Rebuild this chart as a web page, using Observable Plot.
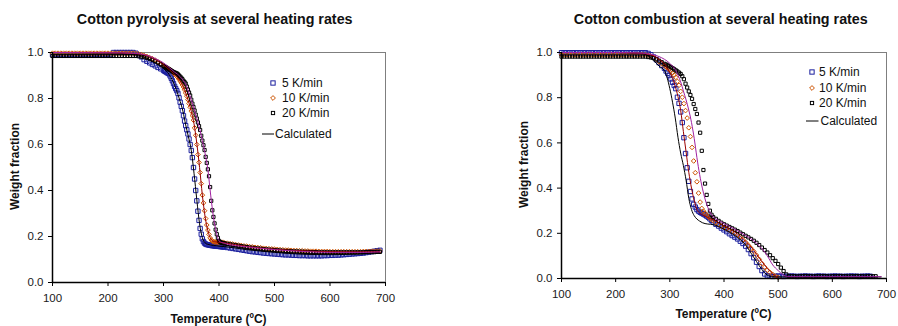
<!DOCTYPE html>
<html><head><meta charset="utf-8">
<script src="https://cdn.jsdelivr.net/npm/d3@7"></script>
<script src="https://cdn.jsdelivr.net/npm/@observablehq/plot@0.6"></script>
<style>
body{margin:0;background:#fff;font-family:Arial,"Liberation Sans",sans-serif;}
#wrap{position:relative;width:898px;height:326px;overflow:hidden;background:#fff}
.chart{position:absolute;top:0;width:449px;height:326px}
#overlay{position:absolute;left:0;top:0;pointer-events:none}
</style></head>
<body><div id="wrap">
<div class="chart" id="left" style="left:0"></div>
<div class="chart" id="right" style="left:449px"></div>
<svg id="overlay" width="898" height="326" font-family="Arial, 'Liberation Sans', sans-serif"></svg>
</div>
<script>
// ---------- shared ----------
const xTicks = [100, 200, 300, 400, 500, 600, 700];
const yTicks = [0, 0.2, 0.4, 0.6, 0.8, 1.0];
const seriesNames = ["5 K/min", "10 K/min", "20 K/min"];
const calcName = "Calculated";
const titleLeft = "Cotton pyrolysis at several heating rates";
const titleRight = "Cotton combustion at several heating rates";
const xLabel = "Temperature (ºC)";
const yLabel = "Weight fraction";

// ---------- left chart: pyrolysis, measured ----------
const tempLeft = [100,105,110,115,120,125,130,135,140,145,150,155,160,165,170,175,180,185,190,195,200,205,210,215,220,225,230,235,240,245,250,255,260,265,270,275,280,285,290,295,
300,302,304,306,308,310,312,314,316,318,320,322,324,326,328,330,332,334,336,338,340,342,344,346,348,350,352,354,356,358,360,362,364,366,368,370,372,374,376,378,380,382,384,386,388,390,392,394,396,398,400,402,404,406,408,410,
415,420,425,430,435,440,445,450,455,460,465,470,475,480,485,490,495,500,505,510,515,520,525,530,535,540,545,550,555,560,565,570,575,580,585,590,595,600,605,610,615,620,625,630,635,640,645,650,655,660,665,670,675,680,685,690];
const pyro5 = [0.99,0.99,0.99,0.99,0.99,0.99,0.99,0.99,0.99,0.99,0.99,0.99,0.99,0.99,0.99,0.99,0.99,0.99,0.99,0.99,0.99,0.99,1.0,1.0,1.0,1.0,1.0,1.0,1.0,1.0,0.997,0.99,0.981,0.969,0.962,0.955,0.948,0.942,0.935,0.929,
0.922,0.919,0.916,0.913,0.910,0.907,0.898,0.888,0.877,0.865,0.853,0.843,0.834,0.822,0.803,0.784,0.766,0.747,0.725,0.702,0.682,0.664,0.646,0.624,0.600,0.574,0.543,0.500,0.450,0.400,0.355,0.310,0.270,0.235,0.210,0.190,0.178,0.171,0.167,0.165,0.164,0.163,0.162,0.161,0.160,0.160,0.159,0.158,0.158,0.157,0.157,0.156,0.156,0.155,0.155,0.154,
0.152,0.150,0.148,0.146,0.144,0.142,0.140,0.138,0.136,0.134,0.133,0.131,0.130,0.128,0.127,0.126,0.125,0.124,0.123,0.122,0.121,0.120,0.120,0.119,0.118,0.118,0.117,0.117,0.117,0.116,0.116,0.116,0.116,0.116,0.116,0.117,0.117,0.118,0.118,0.119,0.119,0.120,0.121,0.122,0.123,0.124,0.125,0.126,0.127,0.128,0.130,0.132,0.134,0.136,0.138,0.140];
const pyro10 = [0.997,0.997,0.997,0.997,0.997,0.997,0.997,0.997,0.997,0.997,0.997,0.997,0.997,0.997,0.997,0.997,0.997,0.997,0.997,0.997,0.997,0.997,0.997,0.997,0.997,0.997,0.997,0.997,0.997,0.997,0.996,0.994,0.991,0.987,0.983,0.978,0.973,0.967,0.959,0.951,
0.943,0.940,0.937,0.934,0.931,0.928,0.925,0.921,0.917,0.912,0.907,0.902,0.897,0.891,0.884,0.876,0.868,0.859,0.850,0.838,0.824,0.810,0.795,0.778,0.762,0.745,0.726,0.706,0.672,0.640,0.600,0.556,0.522,0.478,0.430,0.380,0.346,0.312,0.278,0.250,0.228,0.209,0.194,0.185,0.180,0.177,0.176,0.176,0.175,0.175,0.175,0.174,0.174,0.173,0.173,0.172,
0.171,0.169,0.167,0.165,0.163,0.161,0.159,0.158,0.156,0.155,0.153,0.152,0.151,0.149,0.148,0.147,0.146,0.145,0.144,0.143,0.142,0.141,0.141,0.140,0.139,0.139,0.138,0.138,0.137,0.137,0.136,0.136,0.136,0.135,0.135,0.135,0.135,0.134,0.134,0.134,0.134,0.134,0.134,0.134,0.134,0.134,0.134,0.134,0.134,0.135,0.135,0.135,0.136,0.136,0.137,0.137];
const pyro20 = [0.985,0.985,0.985,0.985,0.985,0.985,0.985,0.985,0.985,0.985,0.985,0.985,0.985,0.985,0.985,0.985,0.985,0.985,0.985,0.985,0.985,0.985,0.985,0.985,0.985,0.985,0.985,0.985,0.985,0.985,0.985,0.984,0.982,0.980,0.977,0.973,0.968,0.962,0.956,0.949,
0.942,0.939,0.936,0.933,0.930,0.927,0.924,0.921,0.918,0.915,0.913,0.911,0.909,0.905,0.900,0.895,0.890,0.884,0.877,0.871,0.865,0.852,0.839,0.826,0.813,0.795,0.778,0.763,0.748,0.730,0.713,0.696,0.680,0.663,0.638,0.617,0.597,0.576,0.546,0.520,0.492,0.462,0.415,0.355,0.314,0.285,0.257,0.230,0.210,0.194,0.181,0.176,0.173,0.172,0.171,0.170,
0.168,0.166,0.164,0.162,0.160,0.158,0.156,0.154,0.152,0.151,0.149,0.148,0.147,0.145,0.144,0.143,0.142,0.141,0.140,0.139,0.138,0.137,0.137,0.136,0.135,0.135,0.134,0.134,0.133,0.133,0.132,0.132,0.132,0.131,0.131,0.131,0.131,0.131,0.131,0.131,0.131,0.131,0.131,0.131,0.131,0.131,0.131,0.131,0.131,0.131,0.132,0.132,0.132,0.132,0.133,0.133];

// ---------- left chart: calculated ----------
const tempCalcLeft = [100,200,250,270,290,300,310,320,330,335,340,345,350,355,360,365,370,375,380,385,390,395,400,410,450,500,550,600,650,690];
const calcPyro5 = [1.0,0.998,0.99,0.975,0.948,0.93,0.905,0.858,0.787,0.745,0.685,0.633,0.575,0.475,0.36,0.255,0.195,0.172,0.166,0.163,0.161,0.16,0.158,0.156,0.143,0.131,0.123,0.121,0.124,0.132];
const calcPyro10 = [1.0,0.999,0.995,0.986,0.962,0.946,0.926,0.905,0.876,0.855,0.824,0.788,0.745,0.69,0.605,0.50,0.38,0.285,0.225,0.19,0.178,0.176,0.175,0.172,0.157,0.145,0.138,0.134,0.133,0.134];
const calcPyro20 = [1.0,0.999,0.996,0.988,0.968,0.955,0.935,0.915,0.895,0.88,0.862,0.83,0.795,0.755,0.712,0.67,0.617,0.56,0.49,0.38,0.285,0.22,0.181,0.17,0.155,0.143,0.135,0.131,0.131,0.133];

// ---------- right chart: combustion, measured ----------
const tempRight = [100,105,110,115,120,125,130,135,140,145,150,155,160,165,170,175,180,185,190,195,200,205,210,215,220,225,230,235,240,245,250,255,260,265,270,275,280,285,
290,293,296,299,302,305,308,311,314,317,320,323,326,329,332,335,338,341,344,347,350,353,356,359,362,365,368,371,374,377,380,
385,390,395,400,405,410,415,420,425,430,435,440,445,450,455,460,465,470,475,480,485,490,495,500,505,510,515,520,525,530,535,540,545,550,555,560,565,570,575,580,585,590,595,600,605,610,615,620,625,630,635,640,645,650,655,660,665,670,675,680,685,690];
const comb5 = [0.999,0.999,0.999,0.999,0.999,0.999,0.999,0.999,0.999,0.999,0.999,0.999,0.999,0.999,0.999,0.999,0.999,0.999,0.999,0.999,0.999,0.999,0.999,0.999,0.999,0.999,0.999,0.999,0.999,0.999,0.999,0.999,0.996,0.990,0.980,0.968,0.955,0.942,
0.930,0.918,0.908,0.898,0.883,0.868,0.854,0.840,0.802,0.775,0.737,0.690,0.623,0.553,0.490,0.430,0.385,0.352,0.328,0.316,0.305,0.298,0.293,0.289,0.285,0.281,0.276,0.271,0.264,0.257,0.250,
0.240,0.232,0.223,0.215,0.207,0.198,0.190,0.183,0.175,0.165,0.155,0.143,0.128,0.110,0.092,0.072,0.053,0.035,0.020,0.012,0.010,0.009,0.010,0.011,0.010,0.009,0.010,0.010,0.011,0.010,0.009,0.010,0.010,0.011,0.010,0.010,0.009,0.010,0.011,0.010,0.010,0.009,0.010,0.010,0.011,0.010,0.010,0.009,0.010,0.010,0.011,0.010,0.010,0.009,0.010,0.010,0.011,0.010];
const comb10 = [0.990,0.990,0.990,0.990,0.990,0.990,0.990,0.990,0.990,0.990,0.990,0.990,0.990,0.990,0.990,0.990,0.990,0.990,0.990,0.990,0.990,0.990,0.990,0.990,0.990,0.990,0.990,0.990,0.990,0.990,0.990,0.990,0.988,0.984,0.978,0.970,0.960,0.950,
0.943,0.937,0.931,0.925,0.918,0.910,0.900,0.890,0.872,0.855,0.828,0.802,0.774,0.743,0.710,0.667,0.628,0.580,0.520,0.468,0.428,0.378,0.338,0.310,0.298,0.289,0.281,0.274,0.267,0.261,0.256,
0.248,0.240,0.232,0.226,0.220,0.214,0.208,0.201,0.194,0.184,0.172,0.160,0.147,0.134,0.120,0.103,0.085,0.066,0.050,0.037,0.027,0.018,0.010,0.005,null,null,null,null,null,null,null,null,null,null,null,null,null,null,null,null,null,null,null,null,null,null,null,null,null,null,null,null,null,null,null,null,null,null,null,null,null,null];
const comb20 = [0.982,0.982,0.982,0.982,0.982,0.982,0.982,0.982,0.982,0.982,0.982,0.982,0.982,0.982,0.982,0.982,0.982,0.982,0.982,0.982,0.982,0.982,0.982,0.982,0.982,0.982,0.982,0.982,0.982,0.982,0.982,0.982,0.980,0.978,0.975,0.970,0.964,0.957,
0.950,0.947,0.943,0.939,0.935,0.931,0.926,0.921,0.916,0.911,0.905,0.895,0.882,0.862,0.845,0.828,0.812,0.795,0.772,0.750,0.728,0.690,0.645,0.565,0.480,0.420,0.370,0.330,0.300,0.282,0.272,
0.264,0.255,0.247,0.240,0.234,0.228,0.222,0.216,0.210,0.203,0.196,0.189,0.182,0.175,0.167,0.158,0.148,0.137,0.126,0.115,0.103,0.090,0.078,0.064,0.048,0.033,0.018,0.011,0.010,0.010,0.009,0.010,0.010,0.011,0.010,0.010,0.009,0.010,0.010,0.010,0.011,0.010,0.009,0.010,0.010,0.010,0.011,0.010,0.010,0.009,0.010,0.010,0.011,0.010,0.010,0.009,0.010,0.010,0.010,0.010];

// ---------- right chart: calculated ----------
const tempCalcRight = [100,200,250,260,270,280,290,300,305,310,315,320,325,330,335,340,345,350,355,360,365,370,375,380,390,400,420,440,450,460,470,480,490,500,510,520,550,600,650,690];
const calcComb5 = [1.0,1.0,0.995,0.985,0.965,0.94,0.92,0.84,0.78,0.71,0.625,0.555,0.50,0.435,0.355,0.305,0.278,0.263,0.254,0.247,0.243,0.241,0.24,0.238,0.23,0.218,0.19,0.148,0.112,0.075,0.04,0.015,0.008,0.007,0.007,0.007,0.007,0.007,0.007,0.007];
const calcComb10 = [1.0,1.0,0.996,0.992,0.985,0.97,0.95,0.91,0.885,0.85,0.805,0.744,0.65,0.56,0.47,0.40,0.345,0.305,0.29,0.282,0.276,0.27,0.265,0.26,0.247,0.232,0.205,0.165,0.14,0.108,0.075,0.045,0.02,0.004,null,null,null,null,null,null];
const calcComb20 = [1.0,1.0,0.997,0.994,0.99,0.982,0.97,0.952,0.94,0.925,0.9,0.87,0.83,0.79,0.745,0.69,0.62,0.535,0.46,0.40,0.352,0.315,0.29,0.274,0.257,0.243,0.218,0.19,0.175,0.156,0.132,0.10,0.06,0.035,0.015,0.008,0.008,0.008,0.008,0.008];

// ---------- styles ----------
const colBlue = "#1b1f9e", colOrange = "#cc5200", colBlack = "#000000";
const colCalc5 = "#000000", colCalc10 = "#990000", colCalc20 = "#a020a0";

function rows(ts, ws) { return ts.map((t, i) => ({t, w: ws[i]})).filter(d => d.w != null); }

function chart(cfg) {
  return Plot.plot({
    width: 449, height: 326,
    marginLeft: cfg.ml, marginRight: cfg.mr, marginTop: cfg.mt, marginBottom: cfg.mb,
    x: {domain: [100, 700]},
    y: {domain: [0, 1]},
    style: {fontFamily: "Arial, 'Liberation Sans', sans-serif", fontSize: "11.5px", color: "#1a1a1a", background: "transparent", overflow: "visible"},
    marks: [
      Plot.frame({stroke: "#7f7f7f", strokeWidth: 1}),
      Plot.dot(rows(cfg.t, cfg.m5), {x: "t", y: "w", symbol: "square", r: 2.45, stroke: colBlue, fill: "none", strokeWidth: 1}),
      Plot.dot(rows(cfg.t, cfg.m10), {x: "t", y: "w", symbol: "diamond2", r: 2.1, stroke: colOrange, fill: "none", strokeWidth: 1}),
      Plot.dot(rows(cfg.t, cfg.m20), {x: "t", y: "w", symbol: "square", r: 1.8, stroke: colBlack, fill: "none", strokeWidth: 1}),
      Plot.line(rows(cfg.tc, cfg.c5), {x: "t", y: "w", stroke: colCalc5, strokeWidth: 1, curve: "monotone-x"}),
      Plot.line(rows(cfg.tc, cfg.c10), {x: "t", y: "w", stroke: colCalc10, strokeWidth: 1, curve: "monotone-x"}),
      Plot.line(rows(cfg.tc, cfg.c20), {x: "t", y: "w", stroke: colCalc20, strokeWidth: 1, curve: "monotone-x"}),
      Plot.ruleY([0], {stroke: "#000", strokeWidth: 1.5}),
      Plot.ruleX([100], {stroke: "#000", strokeWidth: 1.5}),
      Plot.axisX({ticks: xTicks, tickSize: 4, tickPadding: 7, tickFormat: d3.format("d"), label: null, stroke: "#000"}),
      Plot.axisY({ticks: yTicks, tickSize: 4, tickPadding: 5, tickFormat: d3.format(".1f"), label: null, stroke: "#000"})
    ]
  });
}

document.getElementById("left").append(chart({
  ml: 52, mr: 64, mt: 52, mb: 44,
  t: tempLeft, m5: pyro5, m10: pyro10, m20: pyro20,
  tc: tempCalcLeft, c5: calcPyro5, c10: calcPyro10, c20: calcPyro20
}));
document.getElementById("right").append(chart({
  ml: 112, mr: 12, mt: 52, mb: 48,
  t: tempRight, m5: comb5, m10: comb10, m20: comb20,
  tc: tempCalcRight, c5: calcComb5, c10: calcComb10, c20: calcComb20
}));

// ---------- titles, axis labels, legends ----------
const ov = d3.select("#overlay");
function txt(x, y, s, opts = {}) {
  const t = ov.append("text").attr("x", x).attr("y", y).text(s)
    .attr("font-size", opts.size || 12).attr("fill", "#111")
    .attr("font-weight", opts.bold ? "bold" : "normal")
    .attr("text-anchor", opts.anchor || "start");
  if (opts.rotate) t.attr("transform", `rotate(-90 ${x} ${y})`);
  return t;
}
txt(214.7, 24, titleLeft, {size: 14.3, bold: true, anchor: "middle"});
txt(720.8, 24, titleRight, {size: 14.3, bold: true, anchor: "middle"});
txt(218.5, 323, xLabel, {size: 12, bold: true, anchor: "middle"});
txt(723.5, 318, xLabel, {size: 12, bold: true, anchor: "middle"});
txt(18.5, 166.5, yLabel, {size: 12, bold: true, anchor: "middle", rotate: true});
txt(528, 164.5, yLabel, {size: 12, bold: true, anchor: "middle", rotate: true});

function legend(mx, tx, ys, lx0, lx1, ly, ltx) {
  const sq = (cx, cy, s, c) => ov.append("rect").attr("x", cx - s / 2).attr("y", cy - s / 2).attr("width", s).attr("height", s).attr("fill", "none").attr("stroke", c).attr("stroke-width", 1);
  sq(mx, ys[0], 4.3, colBlue);
  txt(tx, ys[0] + 4.3, seriesNames[0]);
  ov.append("path").attr("d", `M${mx},${ys[1] - 2.4}L${mx + 2.4},${ys[1]}L${mx},${ys[1] + 2.4}L${mx - 2.4},${ys[1]}Z`).attr("fill", "none").attr("stroke", colOrange);
  txt(tx, ys[1] + 4.3, seriesNames[1]);
  sq(mx, ys[2], 3.2, colBlack);
  txt(tx, ys[2] + 4.3, seriesNames[2]);
  ov.append("line").attr("x1", lx0).attr("x2", lx1).attr("y1", ly).attr("y2", ly).attr("stroke", "#000");
  txt(ltx, ly + 4.3, calcName);
}
legend(273, 282, [83, 98, 113], 262, 274, 134, 275);
legend(812, 819, [72, 88, 103], 806, 818.5, 121, 820.5);
</script>
</body></html>
